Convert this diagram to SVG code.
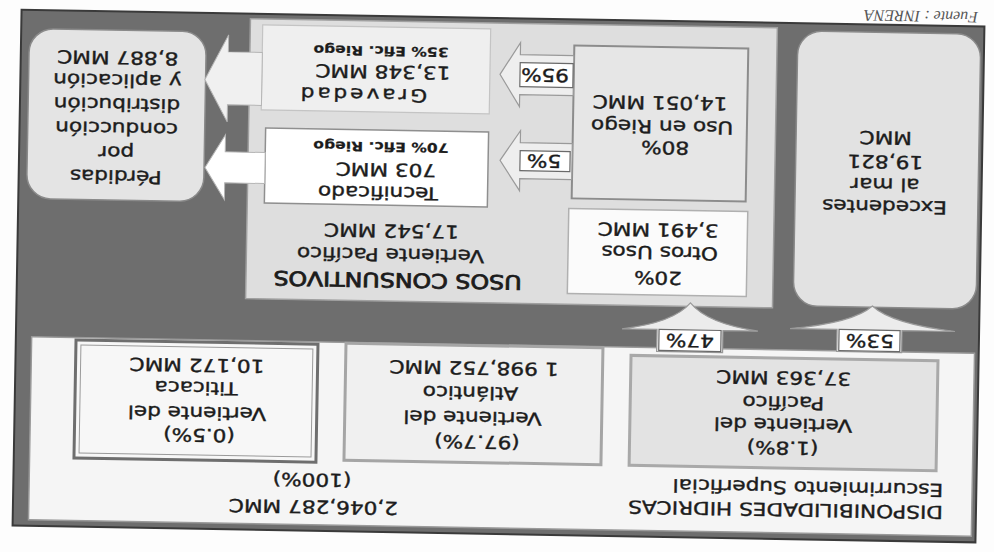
<svg xmlns="http://www.w3.org/2000/svg" width="994" height="552" viewBox="0 0 994 552">
<style>
.t{font-family:"DejaVu Sans","Liberation Sans",sans-serif;font-size:18px;fill:#1c1c1c;stroke:#1c1c1c;stroke-width:0.4;text-anchor:middle}
.st{text-anchor:start}
.h{font-size:19.8px;stroke-width:0.8}
.sm{font-size:13px;font-weight:bold;stroke-width:0.2}
.panel{stroke-width:1.5}
.arrow{stroke:#9a9a9a;stroke-width:1.2}
.lbl{fill:#ffffff;stroke:#6a6a6a;stroke-width:1.2}
</style>
<rect width="994" height="552" fill="#fdfdfd"/>
<g transform="rotate(181 497 276)">
  <text x="77.5" y="548.4" font-family="Liberation Serif, serif" font-style="italic" font-size="16" fill="#555" text-anchor="middle">Fuente : INRENA</text>
  <g id="frame"><rect x="14" y="18" width="963" height="516" fill="#6e6e6e" stroke="#3a3a3a" stroke-width="2"/></g>

  <g id="disponibilidades">
    <rect class="panel" x="18.2" y="24.1" width="943" height="183" fill="#f5f5f5" stroke="#9a9a9a"/>
    <g transform="scale(1.2 1)">
      <text class="t st" x="39.2" y="53.7" font-size="19">DISPONIBILIDADES HIDRICAS</text>
      <text class="t st" x="39.4" y="75.9" font-size="18.5">Escurrimiento Superficial</text>
      <text class="t" x="563.75" y="48.3">2,046,287 MMC</text>
      <text class="t" x="565.3" y="75.3">(100%)</text>
    </g>
  </g>

  <g id="pacifico">
    <rect x="54.6" y="89" width="307" height="110" fill="#e3e3e3" stroke="#a9a9a9" stroke-width="3"/>
    <g transform="scale(1.2 1)">
      <text class="t" x="173.75" y="115.5">(1.8%)</text>
      <text class="t" x="173.75" y="138.5">Vertiente del</text>
      <text class="t" x="173.75" y="160.5">Pacífico</text>
      <text class="t" x="173.75" y="185.5">37,363 MMC</text>
    </g>
  </g>

  <g id="atlantico">
    <rect x="389.8" y="89.1" width="257" height="117" fill="#f0f0f0" stroke="#a5a5a5" stroke-width="3"/>
    <g transform="scale(1.2 1)">
      <text class="t" x="428.4" y="116">(97.7%)</text>
      <text class="t" x="432.5" y="140">Vertiente del</text>
      <text class="t" x="434.6" y="165">Atlántico</text>
      <text class="t" x="432" y="190">1 998,752 MMC</text>
    </g>
  </g>

  <g id="titicaca">
    <rect x="674.8" y="86.7" width="242" height="118" fill="#f7f7f7" stroke="#6e6e6e" stroke-width="3"/>
    <rect x="679.8" y="91.7" width="232" height="108" fill="none" stroke="#9a9a9a" stroke-width="1"/>
    <g transform="scale(1.2 1)">
      <text class="t" x="660.2" y="118">(0.5%)</text>
      <text class="t" x="662.2" y="140">Vertiente del</text>
      <text class="t" x="663.3" y="165">Titicaca</text>
      <text class="t" x="662.8" y="188">10,172 MMC</text>
    </g>
  </g>

  <g id="usos">
    <rect class="panel" x="221" y="249" width="527" height="280" fill="#dedede" stroke="#a0a0a0"/>
    <g transform="scale(1.2 1)">
      <text class="t h" x="497" y="277">USOS CONSUNTIVOS</text>
      <text class="t" x="503.25" y="301.6">Vertiente Pacífico</text>
      <text class="t" x="502.75" y="325.6">17,542 MMC</text>
    </g>
  </g>

  <g id="excedentes">
    <rect x="17.4" y="251.3" width="183" height="275" rx="24" fill="#e2e2e2" stroke="#8a8a8a" stroke-width="1.5"/>
    <g transform="scale(1.2 1)">
      <text class="t" x="92.3" y="358.3">Excedentes</text>
      <text class="t" x="92.3" y="380.3">al mar</text>
      <text class="t" x="92.3" y="403.3">19,821</text>
      <text class="t" x="92.3" y="427.3">MMC</text>
    </g>
  </g>

  <g id="perdidas">
    <rect x="791.8" y="345.3" width="177" height="170" rx="24" fill="#e4e4e4" stroke="#8a8a8a" stroke-width="1.5"/>
    <g transform="scale(1.2 1)">
      <text class="t" x="733.3" y="375">Pérdidas</text>
      <text class="t" x="733.3" y="399">por</text>
      <text class="t" x="733.3" y="423">conducción</text>
      <text class="t" x="733.3" y="447">distribución</text>
      <text class="t" x="733.3" y="471">y aplicación</text>
      <text class="t" x="733.3" y="494">8,887 MMC</text>
    </g>
  </g>

  <g id="otros-usos">
    <rect x="247.4" y="259.8" width="179" height="85" fill="#fbfbfb" stroke="#b0b0b0" stroke-width="1.5"/>
    <g transform="scale(1.2 1)">
      <text class="t" x="280" y="283.3">20%</text>
      <text class="t" x="279" y="308.4">Otros Usos</text>
      <text class="t" x="280.5" y="331.3">3,491 MMC</text>
    </g>
  </g>

  <g id="uso-riego">
    <rect x="249.7" y="354.9" width="174" height="153" fill="#e6e6e6" stroke="#8c8c8c" stroke-width="2"/>
    <g transform="scale(1.2 1)">
      <text class="t" x="276" y="413.6">80%</text>
      <text class="t" x="278.8" y="434.4">Uso en Riego</text>
      <text class="t" x="280.8" y="458.4">14,051 MMC</text>
    </g>
  </g>

  <g id="gravedad">
    <rect x="507.6" y="437.9" width="228" height="85" fill="#efefef" stroke="#c4c4c4" stroke-width="1.2"/>
    <g transform="scale(1.2 1)">
      <text class="t" x="529" y="461.2" letter-spacing="2.5">Gravedad</text>
      <text class="t" x="512.2" y="484.5">13,348 MMC</text>
      <text class="t sm" x="514.1" y="503.5">35% Efic. Riego</text>
    </g>
  </g>

  <g id="tecnificado">
    <rect x="507.9" y="344.9" width="223" height="75" fill="#ffffff" stroke="#8f8f8f" stroke-width="1.5"/>
    <g transform="scale(1.2 1)">
      <text class="t" x="514.6" y="363.4" font-size="16">Tecnificado</text>
      <text class="t" x="508.3" y="386.6" font-size="17">703 MMC</text>
      <text class="t sm" x="512.75" y="407.7">70% Efic. Riego</text>
    </g>
  </g>

  <g id="connectors">
    <path class="arrow" d="M270.1,203.4 H336.1 V225.4 H371.1 Q320,232 303.1,252.4 Q286,232 235.1,225.4 H270.1 Z" fill="#ececec"/>
    <rect class="lbl" x="272" y="204.4" width="62" height="21"/>
    <path class="arrow" d="M91.1,206.5 H156.1 V228.5 H203.1 Q140,235 121.1,252.5 Q102,235 38.1,228.5 H91.1 Z" fill="#ececec"/>
    <rect class="lbl" x="93" y="207.5" width="61" height="21"/>
    <path class="arrow" d="M424,457.7 H477.5 V445.7 L497.5,477.7 L477.5,509.7 V497.7 H424 Z" fill="#eeeeee"/>
    <rect class="lbl" x="424.5" y="465.7" width="53" height="24"/>
    <path class="arrow" d="M424,373.7 H476 V361.7 L496,391.7 L476,421.7 V409.7 H424 Z" fill="#eeeeee"/>
    <rect class="lbl" x="426" y="381.7" width="50" height="20"/>
    <path d="M735.5,442.4 H769.5 V425.4 L792.5,467.4 L769.5,512.4 V495.4 H735.5 Z" fill="#f0f0f0" stroke="#b5b5b5" stroke-width="1"/>
    <path d="M730.9,364.4 H770.9 V347.4 L790.9,379.4 L770.9,412.4 V395.4 H730.9 Z" fill="#ffffff" stroke="#b5b5b5" stroke-width="1"/>
    <g transform="scale(1.2 1)">
      <text class="t" x="252.6" y="221">47%</text>
      <text class="t" x="102.6" y="224">53%</text>
      <text class="t" x="377.1" y="484">95%</text>
      <text class="t" x="376.7" y="398">5%</text>
    </g>
  </g>
</g>
</svg>
